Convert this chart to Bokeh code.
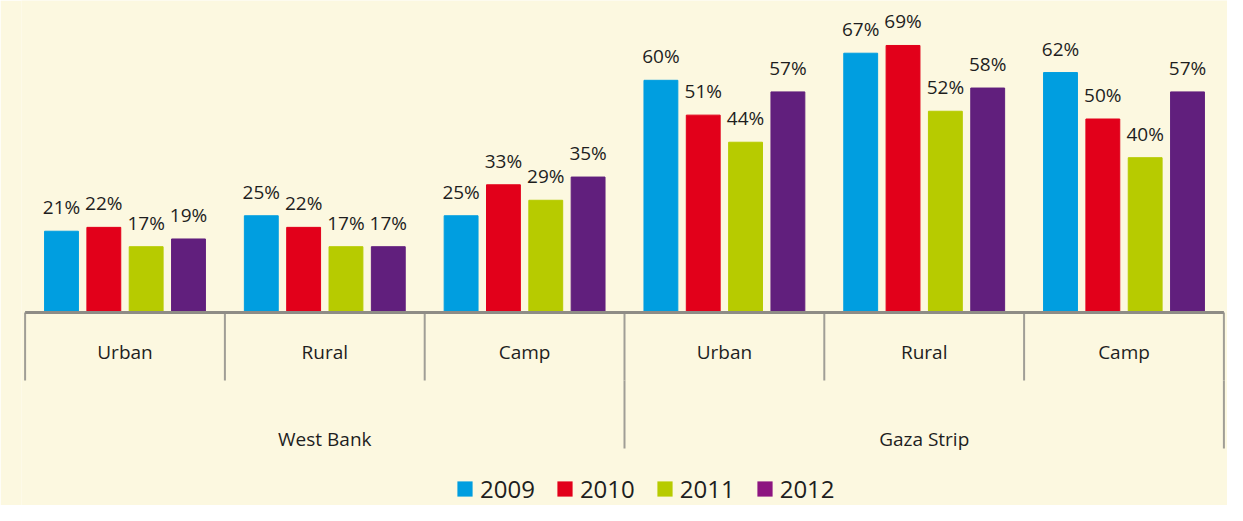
from bokeh.plotting import figure
from bokeh.models import FactorRange, Range1d, ColumnDataSource, Legend, LegendItem
from bokeh.embed import file_html
from bokeh.resources import INLINE
from bokeh.core.properties import value

# ---- data ----
regions = ["West Bank", "Gaza Strip"]
areas = ["Urban", "Rural", "Camp"]
years = ["2009", "2010", "2011", "2012"]
v2009 = [21, 25, 25, 60, 67, 62]
v2010 = [22, 22, 33, 51, 69, 50]
v2011 = [17, 17, 29, 44, 52, 40]
v2012 = [19, 17, 35, 57, 58, 57]
bar_colors = ["#009EE0", "#E2001A", "#B7CB00", "#611F7D"]
legend_colors = ["#009EE0", "#E2001A", "#B7CB00", "#8D1580"]

series = [v2009, v2010, v2011, v2012]
cats = [(r, a) for r in regions for a in areas]
factors = [(r, a, y) for (r, a) in cats for y in years]

BG = "#FCF8E0"
FONT = "Open Sans"
TXT = "#1E1E1E"
PAD = 0.72          # gap between area groups, in factor units
HALF = 2 + PAD / 2  # half width of an area group incl. padding

xs, tops, cols, labels = [], [], [], []
for ci, (r, a) in enumerate(cats):
    for yi, y in enumerate(years):
        xs.append((r, a, y))
        tops.append(series[yi][ci])
        cols.append(bar_colors[yi])
        labels.append(f"{series[yi][ci]}%")
bars = ColumnDataSource(dict(x=xs, top=tops, color=cols, label=labels))

x_range = FactorRange(*factors, factor_padding=0, subgroup_padding=PAD,
                      group_padding=PAD, range_padding=0.445,
                      range_padding_units="absolute")

Y_AREA_SEP = -17.57
Y_REGION_SEP = -35.14
Y_AREA_LBL = -10.08
Y_REGION_LBL = -32.56

p = figure(width=1227, height=505, x_range=x_range, y_range=Range1d(-49.87, 80.62),
           output_backend="svg", toolbar_location=None,
           x_axis_location=None, y_axis_location=None,
           min_border_left=21, min_border_right=0, min_border_top=0, min_border_bottom=0,
           background_fill_color=BG, border_fill_color=BG, outline_line_color=None)
p.xgrid.visible = False
p.ygrid.visible = False

p.vbar(x="x", top="top", width=0.8, source=bars, fill_color="color", line_color="color")

p.text(x="x", y="top", text="label", source=bars, text_align="center",
       text_baseline="middle", y_offset=-24, text_font=value(FONT),
       text_font_size="19px", text_color=TXT)

# area separators
edge_x = [(r, a, -HALF) for (r, a) in cats] + [(cats[-1][0], cats[-1][1], HALF)]
p.segment(x0=edge_x, y0=[0] * len(edge_x), x1=edge_x, y1=[Y_AREA_SEP] * len(edge_x),
          line_color="#A09E96", line_width=2)
# region separators
reg_x = [("Gaza Strip", "Urban", -HALF), ("Gaza Strip", "Camp", HALF)]
p.segment(x0=reg_x, y0=[Y_AREA_SEP] * 2, x1=reg_x, y1=[Y_REGION_SEP] * 2,
          line_color="#A09E96", line_width=2)
# axis line
p.segment(x0=[edge_x[0]], y0=[0], x1=[edge_x[-1]], y1=[0],
          line_color="#8E8C86", line_width=3)

# category labels
p.text(x=cats, y=[Y_AREA_LBL] * len(cats), text=[a for (_, a) in cats],
       text_align="center", text_baseline="middle", text_font=value(FONT),
       text_font_size="19px", text_color=TXT)
p.text(x=regions, y=[Y_REGION_LBL] * len(regions), text=regions,
       text_align="center", text_baseline="middle", text_font=value(FONT),
       text_font_size="19px", text_color=TXT)

# legend (zero-height proxy bars carry the legend colours)
items = []
for yr, c in zip(years, legend_colors):
    r = p.vbar(x=[factors[0]], top=[0], bottom=[0], width=0.8, fill_color=c, line_color=None)
    items.append(LegendItem(label=yr, renderers=[r]))
legend = Legend(items=items, orientation="horizontal", location=(434, 0),
                glyph_width=19, glyph_height=19, label_standoff=6, spacing=20,
                padding=0, margin=0, border_line_color=None, background_fill_alpha=0,
                label_text_font=FONT, label_text_font_size="24px",
                label_text_color=TXT, label_height=24)
p.add_layout(legend, "center")

open("out.html", "w").write(file_html(p, INLINE))
